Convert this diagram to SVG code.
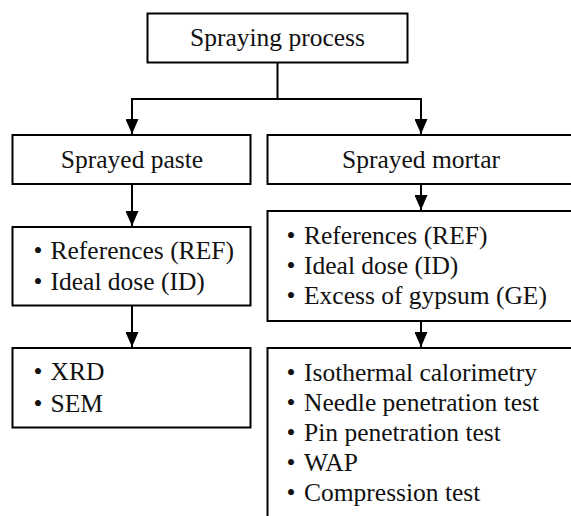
<svg xmlns="http://www.w3.org/2000/svg" width="571" height="516" viewBox="0 0 571 516">
<defs>
<style>
.box{fill:#fff;stroke:#000;stroke-width:2}
.t{font-family:'Liberation Serif','DejaVu Serif',serif;font-size:25.5px;fill:#111}
.c{text-anchor:middle}
.b{text-anchor:middle}
.ln{fill:none;stroke:#000;stroke-width:2}
</style>
<marker id="ah" markerUnits="userSpaceOnUse" markerWidth="15" markerHeight="13" viewBox="0 0 15 13" refX="15" refY="6.5" orient="auto">
<path d="M0 0 L15 6.5 L0 13 Z" fill="#000"/>
</marker>
</defs>
<rect width="571" height="516" fill="#fff"/>
<g id="connectors">
<path class="ln" d="M277.5 62.5 V99"/>
<path class="ln" d="M131 99 H422"/>
<path class="ln" d="M132 99 V134" marker-end="url(#ah)"/>
<path class="ln" d="M421 99 V134" marker-end="url(#ah)"/>
<path class="ln" d="M132 184 V226" marker-end="url(#ah)"/>
<path class="ln" d="M421 184 V210" marker-end="url(#ah)"/>
<path class="ln" d="M132 305.5 V347" marker-end="url(#ah)"/>
<path class="ln" d="M421 321 V347" marker-end="url(#ah)"/>
</g>
<g id="spraying-process">
<rect class="box" x="147.5" y="13.5" width="260" height="49"/>
<text class="t c" x="277.5" y="46" font-family="Liberation Serif, serif">Spraying process</text>
</g>
<g id="sprayed-paste">
<rect class="box" x="12.5" y="135" width="238" height="49"/>
<text class="t c" x="132" y="168">Sprayed paste</text>
</g>
<g id="sprayed-mortar">
<rect class="box" x="267.5" y="135" width="306" height="49"/>
<text class="t c" x="421" y="168">Sprayed mortar</text>
</g>
<g id="paste-samples">
<rect class="box" x="12.5" y="227" width="238" height="78.5"/>
<text class="t b" x="38" y="258.5">•</text><text class="t" x="50.5" y="258.5">References (REF)</text>
<text class="t b" x="38" y="290">•</text><text class="t" x="50.5" y="290">Ideal dose (ID)</text>
</g>
<g id="mortar-samples">
<rect class="box" x="267.5" y="211" width="306" height="110"/>
<text class="t b" x="291" y="243.5">•</text><text class="t" x="304" y="243.5">References (REF)</text>
<text class="t b" x="291" y="273.5">•</text><text class="t" x="304" y="273.5">Ideal dose (ID)</text>
<text class="t b" x="291" y="303.5">•</text><text class="t" x="304" y="303.5">Excess of gypsum (GE)</text>
</g>
<g id="paste-tests">
<rect class="box" x="12.5" y="348" width="238" height="79.5"/>
<text class="t b" x="38" y="379.5">•</text><text class="t" x="50.5" y="379.5">XRD</text>
<text class="t b" x="38" y="411.5">•</text><text class="t" x="50.5" y="411.5">SEM</text>
</g>
<g id="mortar-tests">
<rect class="box" x="267.5" y="348" width="306" height="180"/>
<text class="t b" x="291" y="380.5">•</text><text class="t" x="304" y="380.5">Isothermal calorimetry</text>
<text class="t b" x="291" y="410.5">•</text><text class="t" x="304" y="410.5">Needle penetration test</text>
<text class="t b" x="291" y="440.5">•</text><text class="t" x="304" y="440.5">Pin penetration test</text>
<text class="t b" x="291" y="470.5">•</text><text class="t" x="304" y="470.5">WAP</text>
<text class="t b" x="291" y="501">•</text><text class="t" x="304" y="501">Compression test</text>
</g>
</svg>
